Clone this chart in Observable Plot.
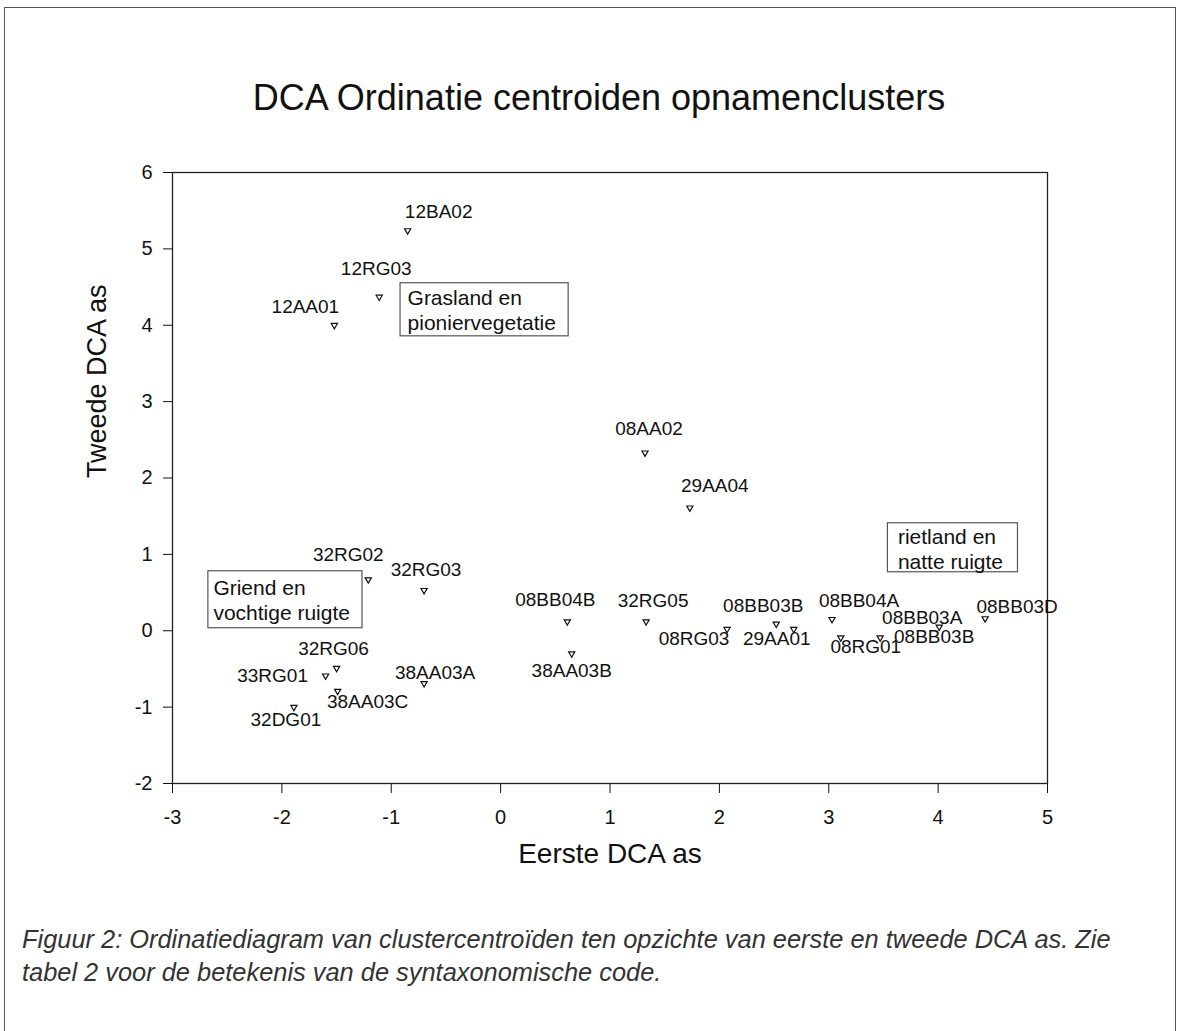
<!DOCTYPE html>
<html>
<head>
<meta charset="utf-8">
<script src="https://cdn.jsdelivr.net/npm/d3@7"></script>
<script src="https://cdn.jsdelivr.net/npm/@observablehq/plot@0.6"></script>
<style>
  body { margin: 0; background: #fff; font-family: "Liberation Sans", Arial, sans-serif; }
  #page { position: relative; width: 1182px; height: 1031px; overflow: hidden; background: #fff; }
  #border { position: absolute; left: 4px; top: 7px; width: 1172px; height: 1100px; z-index: 5;
            pointer-events: none; border: 1.5px solid #555; border-bottom: none; box-sizing: border-box; }
  #title { position: absolute; left: 0; top: 78px; width: 1198px; text-align: center;
           font-size: 36px; line-height: 40px; color: #111; white-space: nowrap; }
  #chart { position: absolute; left: 0; top: 130px; }
  #caption { position: absolute; left: 22px; top: 923px; width: 1150px; font-size: 25.4px;
             line-height: 33px; font-style: italic; color: #333; white-space: nowrap; }
</style>
</head>
<body>
<div id="page">
  <div id="border"></div>
  <div id="title">DCA Ordinatie centroiden opnamenclusters</div>
  <div id="chart"></div>
  <div id="caption">Figuur 2: Ordinatiediagram van clustercentroïden ten opzichte van eerste en tweede DCA as. Zie<br>tabel 2 voor de betekenis van de syntaxonomische code.</div>
</div>
<script>
// ---- data ----
const names = ["12BA02","12RG03","12AA01","08AA02","29AA04","32RG02","32RG03","32RG06","33RG01","38AA03C","32DG01","38AA03A",
               "08BB04B","38AA03B","32RG05","08RG03","08BB03B","29AA01","08BB04A","08RG01","08BB03B","08BB03A","08BB03D"];
const axis1 = [-0.85,-1.11,-1.52,1.32,1.73,-1.21,-0.70,-1.50,-1.60,-1.49,-1.89,-0.70,
               0.61,0.65,1.33,2.07,2.52,2.68,3.03,3.11,3.47,4.01,4.43];
const axis2 = [5.24,4.37,4.00,2.33,1.61,0.67,0.53,-0.49,-0.59,-0.79,-1.00,-0.69,
               0.12,-0.30,0.12,0.02,0.09,0.02,0.15,-0.09,-0.09,0.05,0.16];
const xTicks = [-3,-2,-1,0,1,2,3,4,5];
const yTicks = [-2,-1,0,1,2,3,4,5,6];
const noteText = ["Grasland en\npioniervegetatie","Griend en\nvochtige ruigte","rietland en\nnatte ruigte"];
const noteX1 = [-0.915,-2.672,3.541];
const noteX2 = [0.622,-1.263,4.730];
const noteY1 = [3.855,0.033,0.766];
const noteY2 = [4.550,0.779,1.407];

// ---- layout (label offsets in px) ----
const labelDx = [31,-3,-29,4,25,-20,2,-3,-53,30,-8,11,-12,0,7,-33,-13,-17,27,25,54,-17,32];
const labelDy = [-19,-28,-18,-24,-22,-25,-20,-19,0,11,13,-11,-22,17,-21,10,-18,10,-18,9,-1,-9,-12];
const noteDx = [7,5,10];
const noteDy = [4,6,3];

const pts = names.map((n,i)=>({name:n, x:axis1[i], y:axis2[i]}));
const notes = noteText.map((t,i)=>({text:t, x1:noteX1[i], x2:noteX2[i], y1:noteY1[i], y2:noteY2[i]}));

const font = '"Liberation Sans", Arial, sans-serif';

const chart = Plot.plot({
  width: 1182,
  height: 770,
  marginTop: 42,
  marginLeft: 172,
  marginRight: 135,
  marginBottom: 117,
  style: {fontFamily: font, fontSize: "20px", color: "#111", background: "transparent"},
  x: {domain: [-3,5], ticks: xTicks, tickSize: 10, tickPadding: 16, tickFormat: d => String(d), label: null},
  y: {domain: [-2,6], ticks: yTicks, tickSize: 9, tickPadding: 11, tickFormat: d => String(d), label: null},
  marks: [
    Plot.frame({stroke: "#222", strokeWidth: 1.3}),
    Plot.rect(notes, {x1:"x1", x2:"x2", y1:"y1", y2:"y2", fill:"white", stroke:"#555", strokeWidth:1.2}),
    ...notes.map((d,i) => Plot.text([d], {x:"x1", y:"y2", text:"text", textAnchor:"start", lineAnchor:"top",
        dx: noteDx[i], dy: noteDy[i], fontSize: 21, lineHeight: 1.19, fill:"#111"})),
    Plot.dot(pts, {x:"x", y:"y", symbol:"triangle", rotate:180, r:2.3, stroke:"#111", strokeWidth:1.2, fill:"white"}),
    ...pts.map((d,i) => Plot.text([d], {x:"x", y:"y", text:"name", dx: labelDx[i], dy: labelDy[i],
        fontSize: 19, fill:"#111"})),
    Plot.text(["Eerste DCA as"], {frameAnchor:"bottom", dy: 79, fontSize: 28, fill:"#111"}),
    Plot.text(["Tweede DCA as"], {frameAnchor:"left", dx: -75, rotate: -90, fontSize: 27, fill:"#111"})
  ]
});
document.getElementById("chart").appendChild(chart);
</script>
</body>
</html>
